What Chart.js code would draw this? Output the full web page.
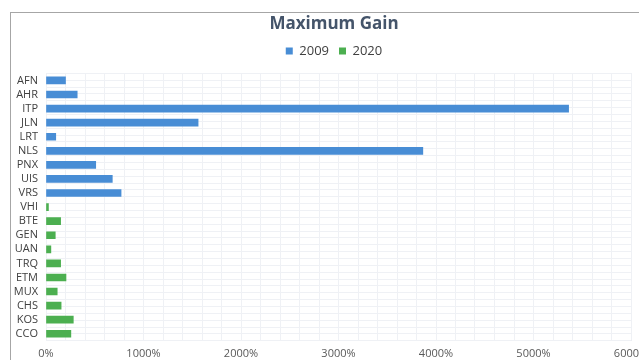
<!DOCTYPE html>
<html>
<head>
<meta charset="utf-8">
<script src="https://cdn.jsdelivr.net/npm/chart.js@4"></script>
<style>
	body {
		margin: 0;
		background: #ffffff;
		overflow: hidden;
	}

	#frame {
		position: absolute;
		left: 10px;
		top: 12px;
		width: 700px;
		height: 400px;
		border-left: 1px solid #a6a6a6;
		border-top: 1px solid #a6a6a6;
	}

	#wrap {
		position: absolute;
		left: 0;
		top: 0;
		width: 639px;
		height: 360px;
		overflow: hidden;
	}
</style>
</head>
<body>
<div id="frame"></div>
<div id="wrap">
	<canvas id="myChart" width="668" height="360"></canvas>
</div>
<script>
	const labels = ['AFN', 'AHR', 'ITP', 'JLN', 'LRT', 'NLS', 'PNX', 'UIS', 'VRS',
		'VHI', 'BTE', 'GEN', 'UAN', 'TRQ', 'ETM', 'MUX', 'CHS', 'KOS', 'CCO'];

	// gain in percent, one list per year (null where the ticker is not in that year)
	const gain2009 = [200, 320, 5360, 1560, 100, 3865, 510, 680, 770,
		null, null, null, null, null, null, null, null, null, null];
	const gain2020 = [null, null, null, null, null, null, null, null, null,
		25, 150, 95, 50, 150, 205, 115, 155, 280, 255];

	const xTicks = [0, 1000, 2000, 3000, 4000, 5000, 6000];

	const data = {
		labels: labels,
		datasets: [{
			label: '2009',
			backgroundColor: 'rgb(72, 141, 213)',
			borderColor: 'rgb(72, 141, 213)',
			data: gain2009,
			barThickness: 7,
			grouped: false
		}, {
			label: '2020',
			backgroundColor: 'rgb(76, 175, 80)',
			borderColor: 'rgb(76, 175, 80)',
			data: gain2020,
			barThickness: 7,
			grouped: false
		}]
	};

	const config = {
		type: 'bar',
		data: data,
		options: {
			indexAxis: 'y',
			responsive: false,
			animation: false,
			layout: {
				autoPadding: false,
				padding: { left: 0, right: 0, top: 14, bottom: -6 }
			},
			plugins: {
				title: {
					display: true,
					text: 'Maximum Gain',
					color: '#44546a',
					font: { family: 'Open Sans', size: 17, weight: 'bold' },
					padding: { top: 0, bottom: 0 }
				},
				legend: {
					position: 'top',
					labels: {
						boxWidth: 7,
						boxHeight: 7,
						color: '#404040',
						font: { family: 'Open Sans', size: 13 },
						padding: 10
					}
				},
				tooltip: { enabled: false }
			},
			scales: {
				x: {
					min: 0,
					max: 6000,
					afterBuildTicks: function (scale) {
						scale.ticks = xTicks.map(v => ({ value: v }));
					},
					ticks: {
						color: '#595959',
						font: { family: 'Open Sans', size: 11 },
						padding: 6,
						maxRotation: 0,
						callback: v => v + '%'
					},
					grid: { color: '#dfe3ea', drawTicks: false },
					border: { display: false }
				},
				xMinor: {
					axis: 'x',
					position: 'top',
					display: true,
					min: 0,
					max: 6000,
					ticks: { display: false, stepSize: 200 },
					grid: { color: '#eff1f5', drawTicks: false },
					border: { display: false },
					afterFit: function (scale) { scale.height = 6; }
				},
				y: {
					ticks: {
						color: '#404040',
						font: { family: 'Open Sans', size: 11 },
						padding: 8,
						autoSkip: false
					},
					grid: { display: false, drawTicks: false },
					border: { display: false },
					afterFit: function (scale) { scale.width = 46; }
				},
				yMinor: {
					axis: 'y',
					type: 'linear',
					position: 'right',
					min: 0,
					max: 38,
					ticks: { display: false, stepSize: 1 },
					grid: { color: '#eff1f5', drawTicks: false },
					border: { display: false },
					afterFit: function (scale) { scale.width = 37; }
				}
			}
		}
	};

	const myChart = new Chart(
		document.getElementById('myChart'),
		config
	);
</script>
</body>
</html>
